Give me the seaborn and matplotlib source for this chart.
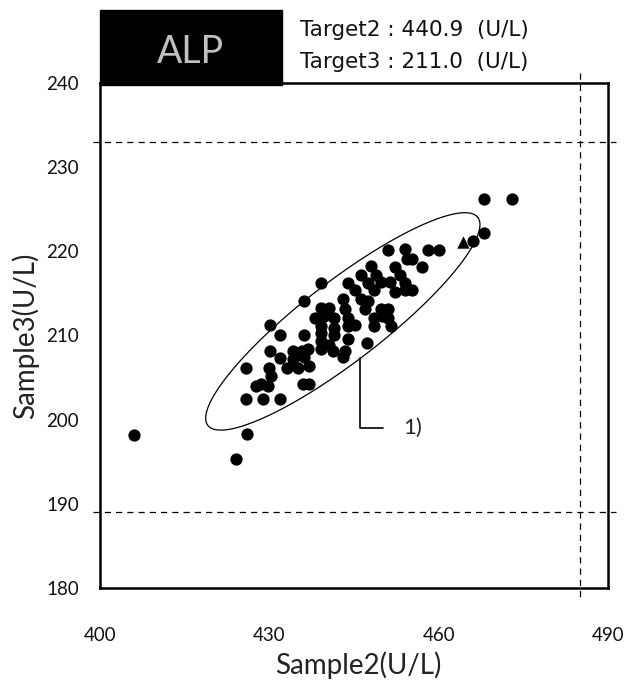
import numpy as np
import pandas as pd
import matplotlib
matplotlib.use("Agg")
import matplotlib.pyplot as plt
import seaborn as sns
from matplotlib.patches import Rectangle

# ---- data ----
sample2 = [406, 424, 426, 468, 473, 468, 466,
           451, 454, 458, 460, 454.3, 455.2, 452.2, 457.1, 448,
           446.3, 448.9, 453.1, 443.9, 447.5, 449.8, 451.3, 454, 455.2, 445.1, 448.6, 454, 452.2, 439.1,
           443, 446.3, 447.5, 436.2, 443.3, 446.9, 449.8, 451, 439.1, 440.6,
           451, 448.6, 443.9, 438, 439.7, 441.5, 450,
           443.9, 448.6, 451.6, 445.1, 439.1, 441.5, 430.1,
           436.2, 439.1, 441.5, 431.9,
           444, 447.2, 439.1, 440.6,
           436.8, 439.1, 441.2, 443.3, 430.1, 434.1, 435.8,
           443, 436.2, 431.9, 434.1,
           437, 433.2, 435, 429.9, 425.8,
           430.2,
           428.5, 427.6, 429.7, 436, 437,
           425.8, 428.9, 431.9]
sample3 = [198.2, 195.3, 198.3, 226.2, 226.2, 222.2, 221.2,
           220.2, 220.3, 220.2, 220.2, 219.1, 219.1, 218.1, 218.1, 218.2,
           217.2, 217.2, 217.2, 216.2, 216.2, 216.4, 216.4, 216.2, 215.4, 215.4, 215.4, 215.4, 215.2, 216.2,
           214.3, 214.3, 214.1, 214.1, 213.1, 213.1, 213.1, 213.1, 213.3, 213.3,
           212.1, 212.1, 212.1, 212.1, 212.3, 212.1, 212.3,
           211.1, 211.1, 211.1, 211.3, 211.1, 210.9, 211.3,
           210.1, 210.3, 210.0, 210.1,
           209.6, 209.1, 209.3, 208.9,
           208.4, 208.4, 208.2, 208.2, 208.2, 208.2, 208.2,
           207.4, 207.4, 207.3, 207.2,
           206.4, 206.2, 206.2, 206.2, 206.2,
           205.2,
           204.2, 204.0, 204.0, 204.2, 204.2,
           202.5, 202.5, 202.5]
special_x = [464.2]
special_y = [221.1]

target2 = 440.9
target3 = 211.0
limit_x = [485.0]
limit_y = [233.0, 189.0]

x_ticks = [400, 430, 460, 490]
y_ticks = [180, 190, 200, 210, 220, 230, 240]

# ellipse (center + half-axis vectors, data units)
ell_center = (443.0, 211.67)
ell_major = (23.9, 12.34)
ell_minor = (4.32, -3.76)

sns.set_theme(style="white")
plt.rcParams['font.family'] = ['Lato', 'DejaVu Sans']

fig = plt.figure(figsize=(6.29, 6.83), dpi=100)
ax = fig.add_axes([0.159, 0.1386, 0.808, 0.7404])

df = pd.DataFrame({"Sample2": sample2, "Sample3": sample3})
sns.scatterplot(data=df, x="Sample2", y="Sample3", ax=ax, color="black",
                s=78, linewidth=0, marker="o", zorder=3)
sp = pd.DataFrame({"x": special_x, "y": special_y})
sns.scatterplot(data=sp, x="x", y="y", ax=ax, color="black", s=80,
                linewidth=0, marker="^", zorder=3)

# ellipse
t = np.linspace(0, 2 * np.pi, 400)
ex = ell_center[0] + ell_major[0] * np.cos(t) + ell_minor[0] * np.sin(t)
ey = ell_center[1] + ell_major[1] * np.cos(t) + ell_minor[1] * np.sin(t)
ax.plot(ex, ey, color="black", lw=0.9, zorder=2)

# limit lines
for yv in limit_y:
    ax.plot([398.7, 491.3], [yv, yv], ls=(0, (5, 4)), color="black", lw=0.9,
            clip_on=False, zorder=1)
for xv in limit_x:
    ax.plot([xv, xv], [241.1, 178.6], ls=(0, (5, 4)), color="black", lw=0.9,
            clip_on=False, zorder=1)

# annotation 1)
ax.plot([446.0, 446.0, 450.1], [207.3, 199.0, 199.0], color="black", lw=1.2, zorder=2)
ax.text(455.4, 199.0, "1)", fontsize=16, ha="center", va="center")

ax.set_xlim(400, 490)
ax.set_ylim(180, 240)
ax.set_xticks(x_ticks)
ax.set_yticks(y_ticks)
ax.tick_params(axis="both", direction="in", length=6, width=1, color="black",
               labelsize=13.5, labelcolor="#111111")
ax.tick_params(axis="x", pad=28)
ax.tick_params(axis="y", pad=15)
ax.set_xlabel("")
ax.set_ylabel("")
for s in ax.spines.values():
    s.set_color("black")
    s.set_linewidth(1.8)
ax.grid(False)

fig.text(0.569, 0.026, "Sample2(U/L)", fontsize=20, ha="center", va="center",
         color="#222222")
fig.text(0.040, 0.509, "Sample3(U/L)", fontsize=20, ha="center", va="center",
         rotation=90, color="#222222")

# title box
fig.patches.append(Rectangle((0.159, 0.8755), 0.289, 0.110, transform=fig.transFigure,
                             facecolor="black", edgecolor="black", zorder=5))
fig.text(0.302, 0.924, "ALP", fontsize=27, color="#c0c0c0", ha="center",
         va="center", zorder=6)
fig.text(0.477, 0.956, f"Target2 : {target2:.1f}  (U/L)", fontsize=15.5, ha="left",
         va="center", color="#111111", family=["DejaVu Sans"])
fig.text(0.477, 0.909, f"Target3 : {target3:.1f}  (U/L)", fontsize=15.5, ha="left",
         va="center", color="#111111", family=["DejaVu Sans"])

fig.savefig("out.png", dpi=100)
